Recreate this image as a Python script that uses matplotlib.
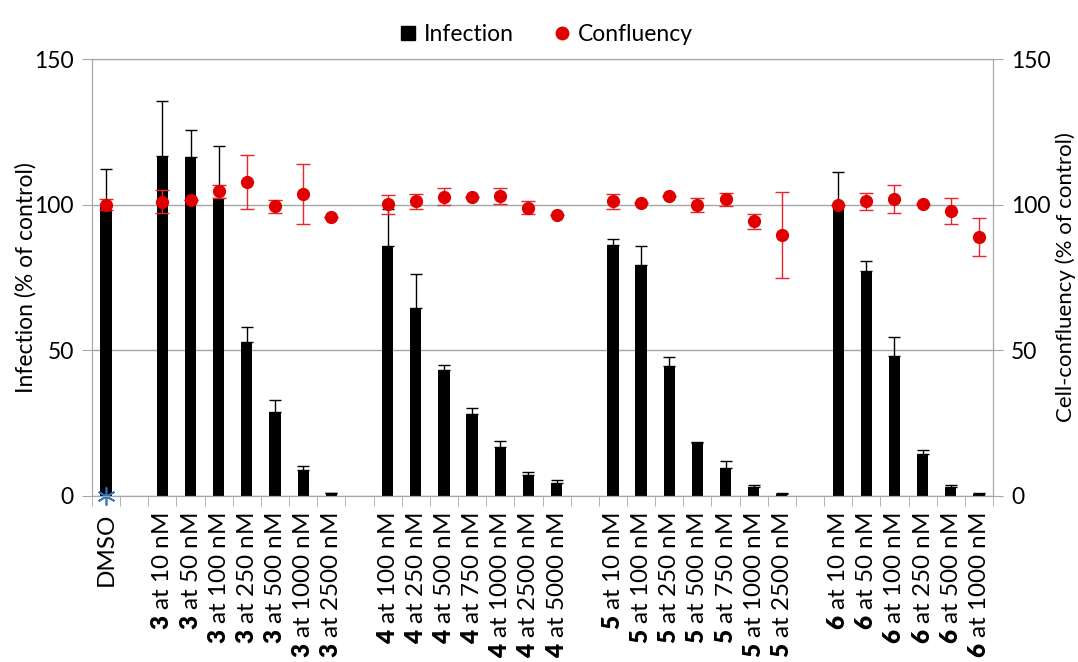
import matplotlib.pyplot as plt
import numpy as np

plt.rcParams['font.family'] = ['Lato', 'DejaVu Sans']
plt.rcParams['mathtext.fontset'] = 'custom'
plt.rcParams['mathtext.rm'] = 'Lato'
plt.rcParams['mathtext.bf'] = 'Lato:heavy'

# compound groups, each followed by an empty slot on the x axis
group_names = ['DMSO', '3', '4', '5', '6']
concentrations = [
    [],
    [10, 50, 100, 250, 500, 1000, 2500],
    [100, 250, 500, 750, 1000, 2500, 5000],
    [10, 100, 250, 500, 750, 1000, 2500],
    [10, 50, 100, 250, 500, 1000],
]

# infection (% of control), DMSO first, then compounds in order
infection = [100.0,
             116.8, 116.3, 102.4, 52.9, 28.8, 8.9, 1.0,
             85.7, 64.6, 43.4, 28.0, 16.7, 7.3, 4.6,
             86.3, 79.2, 44.6, 18.1, 9.7, 3.2, 0.8,
             100.0, 77.4, 48.1, 14.4, 3.1, 0.8]
infection_err = [12.3,
                 18.8, 9.4, 17.6, 5.0, 4.2, 1.3, 0.2,
                 12.7, 11.7, 1.4, 2.3, 2.1, 0.8, 0.8,
                 1.9, 6.7, 3.2, 0.3, 2.3, 0.7, 0.2,
                 11.1, 3.4, 6.4, 1.5, 0.8, 0.2]

# cell confluency (% of control)
confluency = [100.0,
              101.0, 101.6, 104.6, 107.7, 99.4, 103.7, 95.8,
              100.1, 101.1, 102.8, 102.8, 103.0, 98.9, 96.5,
              101.1, 100.7, 103.1, 99.9, 101.8, 94.3, 89.5,
              99.9, 101.1, 102.0, 100.4, 97.8, 88.9]
confluency_err = [1.8,
                  3.9, 0.0, 2.2, 9.2, 2.3, 10.3, 0.0,
                  3.3, 2.6, 2.8, 0.0, 2.8, 2.2, 0.0,
                  2.6, 0.0, 0.0, 2.5, 2.3, 2.6, 14.7,
                  0.0, 3.0, 4.7, 0.0, 4.6, 6.4]

positions = []
labels = []
pos = 0
for name, concs in zip(group_names, concentrations):
    if not concs:
        positions.append(pos)
        labels.append(name)
        pos += 2
        continue
    for c in concs:
        positions.append(pos)
        labels.append(r'$\mathbf{%s}$ at %d nM' % (name, c))
        pos += 1
    pos += 1
positions = np.array(positions)
n_slots = pos - 1

grey = '#a6a6a6'

fig = plt.figure(figsize=(10.78, 6.62), dpi=100)
ax = fig.add_axes([92 / 1078, 1 - 496 / 662, (993 - 92) / 1078, (496 - 59) / 662])

ax.bar(positions, infection, width=0.4, color='black', zorder=2)
ax.errorbar(positions, infection, yerr=[np.zeros(len(infection)), infection_err],
            fmt='none', ecolor='black', elinewidth=1, capsize=4, capthick=1, zorder=3)
# DMSO reference marker on the baseline
ax.plot([positions[0]], [0], marker=(6, 2, 0), ms=13, mew=1.2, color='#2e75b6',
        clip_on=False, zorder=5)

ax.set_xlim(-0.5, n_slots - 0.5)
ax.set_ylim(0, 150)
ax.set_yticks([0, 50, 100, 150])
ax.yaxis.grid(True, color=grey, lw=1)
ax.set_axisbelow(True)
ax.set_xticks(positions)
ax.set_xticklabels(labels, rotation=90, fontsize=17.5)
ax.set_xticks(np.arange(-0.5, n_slots, 1.0), minor=True)
ax.tick_params(axis='x', which='major', length=0, pad=12)
ax.tick_params(axis='x', which='minor', length=7, color=grey, direction='out')
ax.tick_params(axis='y', length=7, color=grey, labelsize=16.5, pad=6)
for s in ax.spines.values():
    s.set_color(grey)
ax.set_ylabel('Infection (% of control)', fontsize=16.5, ha='center', va='center')
ax.yaxis.set_label_coords(-0.074, 0.5)

ax2 = ax.twinx()
ax2.set_ylim(0, 150)
ax2.set_yticks([0, 50, 100, 150])
ax2.errorbar(positions, confluency, yerr=confluency_err, fmt='o', ms=8.5,
             color='#e00000', ecolor='#e8262b', elinewidth=1, capsize=5, capthick=1,
             zorder=4)
ax2.tick_params(axis='y', length=7, color=grey, labelsize=16.5, pad=6)
for s in ax2.spines.values():
    s.set_color(grey)
ax2.set_ylabel('Cell-confluency (% of control)', fontsize=16, ha='center', va='center')
ax2.yaxis.set_label_coords(1.081, 0.5)

handles = [
    plt.Line2D([], [], ls='none', marker='s', ms=10, color='black'),
    plt.Line2D([], [], ls='none', marker='o', ms=9, color='#e00000'),
]
fig.legend(handles, ['Infection', 'Confluency'], loc='upper center',
           bbox_to_anchor=(0.505, 0.995), ncol=2, frameon=False, fontsize=16.5,
           handletextpad=0.2, columnspacing=1.6, handlelength=1.0)

fig.savefig('out.png', dpi=100)
